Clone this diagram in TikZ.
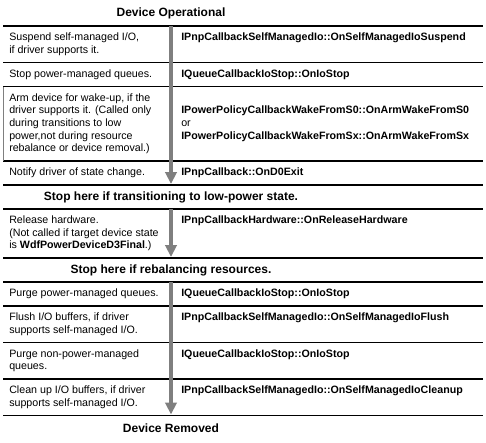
\documentclass[tikz,border=0pt]{standalone}
\usepackage{fontspec}
\setmainfont{Liberation Sans}
\usepackage{xcolor}
\usetikzlibrary{arrows.meta}

\definecolor{cinza}{HTML}{7F7F7F}

\begin{document}
\begin{tikzpicture}[x=0.75pt,y=-0.75pt,
	esq/.style={anchor=west,align=left,inner sep=0pt,font=\fontsize{8}{9.4}\selectfont},
	dir/.style={anchor=west,align=left,inner sep=0pt,font=\fontsize{8}{9.4}\selectfont\bfseries},
	titulo/.style={inner sep=0pt,font=\fontsize{9}{11}\selectfont\bfseries},
	linha/.style={line width=0.9pt},
	seta/.style={cinza,line width=2.3pt,-{Triangle[width=8.5pt,length=9pt]}}]
	\useasboundingbox (0,0) rectangle (486,443);
	
	% Linhas da tabela
	\draw[linha] (3,26) -- (483,26);
	\draw[linha] (3,62.5) -- (483,62.5);
	\draw[linha] (3,86.5) -- (483,86.5);
	\draw[linha] (3,161) -- (483,161);
	\draw[linha] (3,185) -- (483,185);
	\draw[linha] (3,209) -- (483,209);
	\draw[linha] (3,258) -- (483,258);
	\draw[linha] (3,282) -- (483,282);
	\draw[linha] (3,306) -- (483,306);
	\draw[linha] (3,342.5) -- (483,342.5);
	\draw[linha] (3,379) -- (483,379);
	\draw[linha] (3,415.5) -- (483,415.5);
	\draw[cinza,line width=0.6pt] (3,86.5) -- (3,161);
	
	% Seta
	\coordinate (a0) at (171,26);
	\coordinate (a1) at (171,184);
	\coordinate (b0) at (171,209);
	\coordinate (b1) at (171,257);
	\coordinate (c0) at (171,282);
	\coordinate (c1) at (171,414.5);
	\draw[seta] (a0) -- (a1);
	\draw[seta] (b0) -- (b1);
	\draw[seta] (c0) -- (c1);
	
	% Títulos
	\node[titulo] (inicio) at (171,13) {Device Operational};
	\node[titulo] (parada1) at (171,197) {Stop here if transitioning to low-power state.};
	\node[titulo] (parada2) at (171,270) {Stop here if rebalancing resources.};
	\node[titulo] (fim) at (171,428) {Device Removed};
	
	% Coluna esquerda
	\node[esq] (e1) at (9,44.25) {Suspend self-managed I/O,\\if driver supports it.};
	\node[esq] (e2) at (9,74.5) {Stop power-managed queues.};
	\node[esq] (e3) at (9,123.75) {Arm device for wake-up, if the\\driver supports it. (Called only\\during transitions to low\\power,not during resource\\rebalance or device removal.)};
	\node[esq] (e4) at (9,173) {Notify driver of state change.};
	\node[esq] (e5) at (9,233.5) {Release hardware.\\(Not called if target device state\\is \textbf{WdfPowerDeviceD3Final}.)};
	\node[esq] (e6) at (9,294) {Purge power-managed queues.};
	\node[esq] (e7) at (9,324.25) {Flush I/O buffers, if driver\\supports self-managed I/O.};
	\node[esq] (e8) at (9,360.75) {Purge non-power-managed\\queues.};
	\node[esq] (e9) at (9,397.25) {Clean up I/O buffers, if driver\\supports self-managed I/O.};
	
	% Coluna direita
	\node[dir] (d1) at (181,38) {IPnpCallbackSelfManagedIo::OnSelfManagedIoSuspend};
	\node[dir] (d2) at (181,74.5) {IQueueCallbackIoStop::OnIoStop};
	\node[dir] (d3) at (181,123.75) {IPowerPolicyCallbackWakeFromS0::OnArmWakeFromS0\\\mdseries or\\IPowerPolicyCallbackWakeFromSx::OnArmWakeFromSx};
	\node[dir] (d4) at (181,173) {IPnpCallback::OnD0Exit};
	\node[dir] (d5) at (181,221) {IPnpCallbackHardware::OnReleaseHardware};
	\node[dir] (d6) at (181,294) {IQueueCallbackIoStop::OnIoStop};
	\node[dir] (d7) at (181,318) {IPnpCallbackSelfManagedIo::OnSelfManagedIoFlush};
	\node[dir] (d8) at (181,354.5) {IQueueCallbackIoStop::OnIoStop};
	\node[dir] (d9) at (181,391) {IPnpCallbackSelfManagedIo::OnSelfManagedIoCleanup};
\end{tikzpicture}
\end{document}
